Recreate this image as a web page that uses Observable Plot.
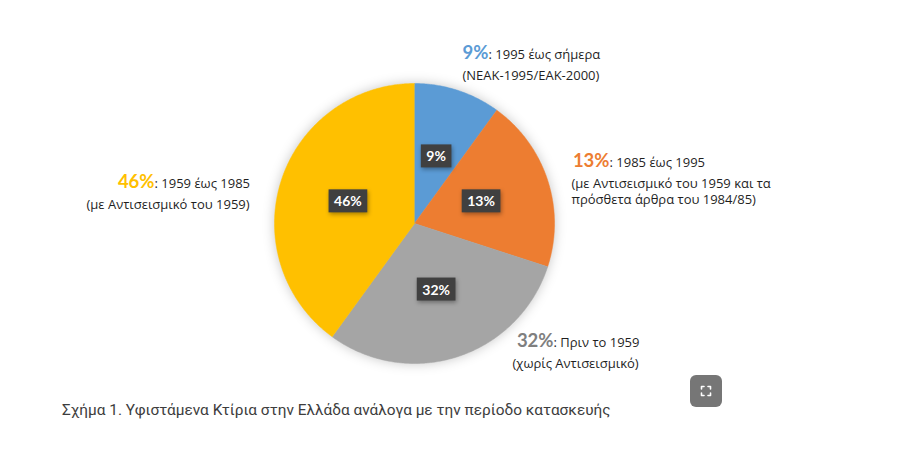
<!DOCTYPE html>
<html><head><meta charset="utf-8">
<script src="https://cdn.jsdelivr.net/npm/d3@7"></script>
<script src="https://cdn.jsdelivr.net/npm/@observablehq/plot@0.6"></script>
<style>
html,body{margin:0;padding:0;background:#fff;}
body{width:900px;height:471px;overflow:hidden;position:relative;font-family:Roboto,sans-serif;}
#chart{position:absolute;left:0;top:0;}
#caption{position:absolute;left:62px;top:401px;font:15.4px Roboto,sans-serif;color:#3d3d3d;white-space:nowrap;}
#btn{position:absolute;left:690px;top:375px;width:32px;height:32px;border-radius:6px;background:#767676;}
</style></head><body>
<div id="chart"></div>
<div id="caption">Σχήμα 1. Υφιστάμενα Κτίρια στην Ελλάδα ανάλογα με την περίοδο κατασκευής</div>
<div id="btn"><svg width="32" height="32" viewBox="0 0 32 32"><g fill="none" stroke="#fff" stroke-width="1.6" stroke-linecap="round" stroke-linejoin="round"><path d="M11.5 14V11.5H14"/><path d="M18 11.5H20.5V14"/><path d="M20.5 18V20.5H18"/><path d="M14 20.5H11.5V18"/></g></svg></div>
<script>
// ---- data ----
const categories = ["1995 έως σήμερα", "1985 έως 1995", "Πριν το 1959", "1959 έως 1985"];
const sliceShares = [10, 20, 30, 40];            // slice sizes as drawn in the picture
const percentLabels = ["9%", "13%", "32%", "46%"]; // printed labels
const detailLines = [
  ["(ΝΕΑΚ-1995/ΕΑΚ-2000)"],
  ["(με Αντισεισμικό του 1959 και τα", "πρόσθετα άρθρα του 1984/85)"],
  ["(χωρίς Αντισεισμικό)"],
  ["(με Αντισεισμικό του 1959)"]
];
const sliceColors = ["#5B9BD5", "#ED7D31", "#A5A5A5", "#FFC000"];
const labelColors = ["#5B9BD5", "#ED7D31", "#7F7F7F", "#FFC000"];

// ---- layout (pixels) ----
const W = 900, H = 395;
const cx = 414, cy = 223, R = 140;
const outerLayout = [
  {split: 488, base: 58,  lineStart: 462},
  {split: 609, base: 166, lineStart: 571},
  {split: 553, base: 346, lineStart: 512},
  {split: 154, base: 187, lineStart: 86}
];
const ux = px => (px - cx) / R;
const uy = py => (cy - py) / R;

// ---- geometry from data ----
const arcs = d3.pie().sort(null).value(d => d)(sliceShares);
const slicePts = [];
arcs.forEach((a, i) => {
  slicePts.push({cat: categories[i], x: 0, y: 0});
  const n = Math.max(2, Math.ceil((a.endAngle - a.startAngle) / (Math.PI / 360)));
  for (let k = 0; k <= n; k++) {
    const t = a.startAngle + (a.endAngle - a.startAngle) * k / n;
    slicePts.push({cat: categories[i], x: Math.sin(t), y: Math.cos(t)});
  }
});
const inner = arcs.map((a, i) => {
  const m = (a.startAngle + a.endAngle) / 2;
  return {cat: categories[i], label: percentLabels[i], x: 0.5 * Math.sin(m), y: 0.5 * Math.cos(m)};
});
const heads = categories.map((c, i) => ({
  i, pct: percentLabels[i], rest: ": " + c,
  x: ux(outerLayout[i].split), y: uy(outerLayout[i].base)
}));
const details = [];
detailLines.forEach((lines, i) => lines.forEach((t, j) => details.push({
  i, text: t, x: ux(outerLayout[i].lineStart), y: uy(outerLayout[i].base + 21 + 16.5 * j)
})));

const chart = Plot.plot({
  width: W, height: H, margin: 0,
  style: {background: "transparent", overflow: "visible"},
  x: {domain: [-1, 1], range: [cx - R, cx + R], axis: null},
  y: {domain: [-1, 1], range: [cy + R, cy - R], axis: null},
  color: {domain: categories, range: sliceColors},
  marks: [
    Plot.line(slicePts, {x: "x", y: "y", z: "cat", fill: "cat", stroke: "cat", strokeWidth: 0.5, curve: "linear", className: "slices"}),
    Plot.text(heads, {x: "x", y: "y", text: "pct", fill: d => labelColors[d.i], textAnchor: "end", lineAnchor: "bottom",
      fontFamily: "Lato, 'Open Sans', sans-serif", fontWeight: "bold", fontSize: 18.5}),
    Plot.text(heads, {x: "x", y: "y", text: "rest", fill: "#1f1f1f", textAnchor: "start", lineAnchor: "bottom",
      fontFamily: "'Open Sans', sans-serif", fontWeight: 500, fontSize: 13}),
    Plot.text(details, {x: "x", y: "y", text: "text", fill: "#1f1f1f", textAnchor: "start", lineAnchor: "bottom",
      fontFamily: "'Open Sans', sans-serif", fontWeight: 500, fontSize: 13}),
    Plot.text(inner, {x: "x", y: "y", text: "label", fill: "white", fontWeight: "bold", fontSize: 14,
      fontFamily: "Lato, 'Open Sans', sans-serif", className: "innerlabels"})
  ]
});
document.getElementById("chart").appendChild(chart);

// soft halo around the pie
d3.select(chart).selectAll("g.slices").style("filter", "drop-shadow(0px 0px 6px rgba(0,0,0,0.22))");

// dark boxes behind inner labels
function boxes() {
  const g = d3.select(chart).select("g.innerlabels");
  g.selectAll("rect.box").remove();
  g.selectAll("text").each(function() {
    const b = this.getBBox();
    const tr = this.getAttribute("transform");
    d3.select(this.parentNode).insert("rect", () => this)
      .attr("class", "box")
      .attr("transform", tr)
      .attr("x", b.x - 5.5).attr("y", b.y + b.height / 2 - 11.5)
      .attr("width", b.width + 11).attr("height", 23)
      .attr("fill", "#404040")
      .style("filter", "drop-shadow(1px 2px 2px rgba(0,0,0,0.35))");
  });
}
boxes();
if (document.fonts && document.fonts.ready) document.fonts.ready.then(boxes);
</script>
</body></html>
